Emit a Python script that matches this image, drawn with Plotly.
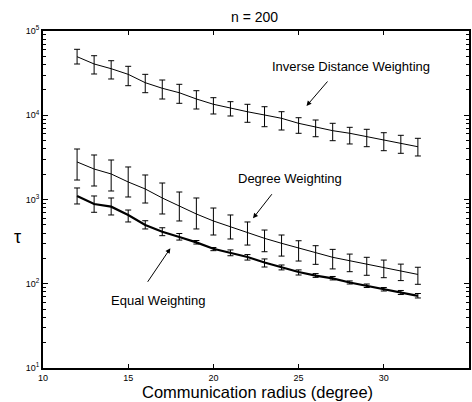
import plotly.graph_objects as go

# ---------------- data ----------------
radius = [12, 13, 14, 15, 16, 17, 18, 19, 20, 21, 22, 23, 24, 25, 26, 27, 28, 29, 30, 31, 32]

idw_mean = [49550, 40600, 35700, 30600, 24350, 20900, 18500, 15600, 13500, 12100, 11000,
            10070, 9200, 8020, 7310, 6560, 6110, 5560, 5080, 4640, 4230]
idw_upper = [60650, 50900, 44400, 38100, 30600, 26200, 23300, 19560, 16160, 14490, 13490,
             12630, 11020, 9350, 8780, 8025, 7190, 6810, 6205, 5780, 5325]
idw_lower = [40580, 30880, 26940, 22430, 18520, 15590, 13860, 11860, 10350, 9800, 8250,
             7310, 6680, 6105, 5560, 4990, 4560, 4235, 3795, 3535, 3285]

deg_mean = [2790, 2300, 2010, 1614, 1333, 1042, 837, 673, 556, 472, 400,
            346, 302, 268, 234, 206, 188, 170, 155, 142, 129]
deg_upper = [3975, 3375, 2943, 2432, 1954, 1570, 1227, 1042, 792, 655, 541,
             434, 379, 324, 283, 256, 225, 206, 191, 171, 157]
deg_lower = [1703, 1446, 1262, 1071, 908, 673, 556, 447, 379, 340, 288,
             240, 213, 186, 170, 150, 139, 126, 118, 109, 98.5]

eq_mean = [1101, 885, 822, 655, 498, 415, 359, 310, 260, 234, 208,
           179, 158, 138, 125, 116, 103.5, 94.6, 85.9, 78.7, 71.9]
eq_upper = [1370, 1101, 1042, 750, 560, 462, 395, 326, 269, 252, 222,
            197, 167, 146, 132, 122, 108, 99.3, 90.2, 83.2, 76.6]
eq_lower = [885, 705, 655, 541, 447, 372, 330, 296, 247, 215, 191,
            158, 146, 127, 119, 111, 99.3, 90.2, 82.0, 74.5, 67.8]

x_ticks = [10, 15, 20, 25, 30, 35]
y_ticks = [10, 100, 1000, 10000, 100000]
y_ticktext = ["10<sup>1</sup>", "10<sup>2</sup>", "10<sup>3</sup>", "10<sup>4</sup>", "10<sup>5</sup>"]

title_text = "n = 200"
x_title = "Communication radius (degree)"
y_title = "τ"
labels = ["Inverse Distance Weighting", "Degree Weighting", "Equal Weighting"]

FONT = "Liberation Sans, Arial, Helvetica, sans-serif"


def series(mean, upper, lower, width):
    return go.Scatter(
        x=radius, y=mean, mode="lines",
        line=dict(color="black", width=width),
        error_y=dict(type="data", symmetric=False,
                     array=[u - m for u, m in zip(upper, mean)],
                     arrayminus=[m - l for m, l in zip(mean, lower)],
                     color="black", thickness=1, width=3),
        showlegend=False,
    )


fig = go.Figure()
fig.add_trace(series(idw_mean, idw_upper, idw_lower, 1))
fig.add_trace(series(deg_mean, deg_upper, deg_lower, 1))
fig.add_trace(series(eq_mean, eq_upper, eq_lower, 2.2))

minor_vals = [k * 10 ** e for e in range(1, 5) for k in range(2, 10)]

fig.update_layout(
    width=472, height=402,
    margin=dict(l=43, r=1, t=31, b=34),
    paper_bgcolor="white", plot_bgcolor="white",
    font=dict(family=FONT, color="black"),
    xaxis=dict(range=[10, 35], tickvals=x_ticks, ticks="inside", ticklen=4,
               tickcolor="black", showline=True, linecolor="black", linewidth=2,
               mirror="ticks", showgrid=False, zeroline=False,
               tickfont=dict(size=9)),
    yaxis=dict(type="log", range=[1, 5], tickvals=y_ticks, ticktext=y_ticktext,
               ticks="inside", ticklen=5, tickcolor="black",
               showline=True, linecolor="black", linewidth=2, mirror="ticks",
               showgrid=False, zeroline=False, tickfont=dict(size=9),
               minor=dict(ticks="inside", ticklen=3, tickcolor="black",
                          tickvals=minor_vals, showgrid=False)),
)


def text_ann(text, x, y, size):
    return dict(text=text, xref="paper", yref="paper", x=x, y=y,
                xanchor="center", yanchor="middle", showarrow=False,
                font=dict(size=size))


ann = [
    text_ann(title_text, 0.4965, 1.041, 14),
    text_ann(x_title, 0.504, -0.0725, 16.5),
    text_ann(y_title, -0.0607, 0.389, 18),
    text_ann(labels[0], 0.722, 0.896, 13),
    text_ann(labels[1], 0.5794, 0.5629, 13),
    text_ann(labels[2], 0.271, 0.1997, 13),
]
# arrows
for hx, hy, ax, ay in [(0.6185, 0.7774, 22.3, -26), (0.493, 0.4442, 20, -25.6),
                       (0.299, 0.3552, -23.7, 35)]:
    ann.append(dict(text="", xref="paper", yref="paper", x=hx, y=hy, ax=ax, ay=ay,
                    axref="pixel", ayref="pixel", showarrow=True, arrowhead=2,
                    arrowsize=1, arrowwidth=1, arrowcolor="black"))
fig.update_layout(annotations=ann)

fig.write_html("out.html")
